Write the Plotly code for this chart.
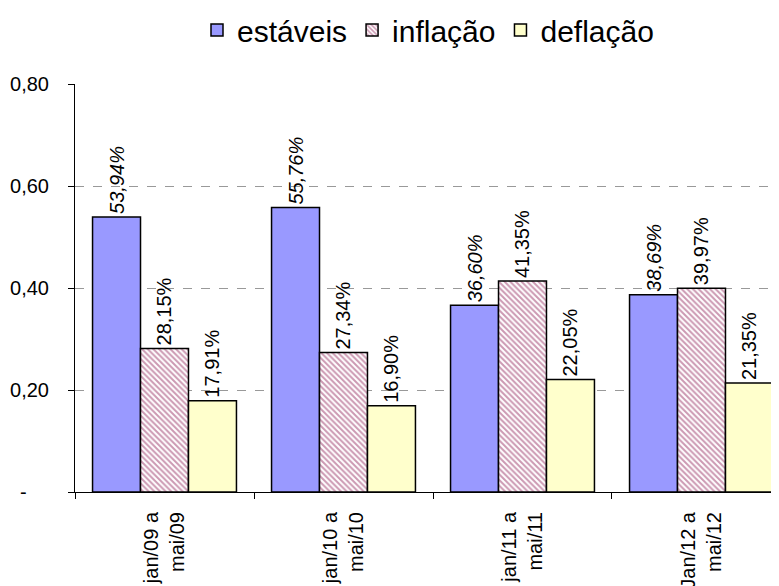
import plotly.graph_objects as go

categories = ["jan/09 a<br>mai/09", "jan/10 a<br>mai/10", "jan/11 a<br>mai/11", "Jan/12 a<br>mai/12"]
estaveis = [0.5394, 0.5576, 0.3660, 0.3869]
inflacao = [0.2815, 0.2734, 0.4135, 0.3997]
deflacao = [0.1791, 0.1690, 0.2205, 0.2135]
y_tickvals = [0, 0.2, 0.4, 0.6, 0.8]
y_ticktext = ["-<span style='color:rgba(0,0,0,0)'>00</span>", "0,20", "0,40", "0,60", "0,80"]

def pct(v):
    return f"{v*100:.2f}%".replace(".", ",")

font_family = "Liberation Sans, Arial, sans-serif"
label_font = dict(family=font_family, size=20, color="black")
common = dict(textposition="outside", textangle=-90, constraintext="none",
              cliponaxis=False, textfont=label_font)

fig = go.Figure()
fig.add_trace(go.Bar(
    name="estáveis", x=categories, y=estaveis,
    text=[f"<i>{pct(v)}</i>" for v in estaveis],
    marker=dict(color="#9999FF", line=dict(color="black", width=1.5)),
    **common,
))
fig.add_trace(go.Bar(
    name="inflação", x=categories, y=inflacao,
    text=[pct(v) for v in inflacao],
    marker=dict(color="white", line=dict(color="black", width=1.5),
                pattern=dict(shape="\\", fgcolor="#993366", bgcolor="white", size=4, solidity=0.5)),
    **common,
))
fig.add_trace(go.Bar(
    name="deflação", x=categories, y=deflacao,
    text=[pct(v) for v in deflacao],
    marker=dict(color="#FFFFCC", line=dict(color="black", width=1.5)),
    **common,
))

W, H = 771, 578
fig.update_layout(
    width=W, height=H,
    margin=dict(l=67, r=0, t=76, b=94, autoexpand=False),
    paper_bgcolor="white", plot_bgcolor="white",
    barmode="group", bargap=0.196, bargroupgap=0,
    font=dict(family=font_family, size=20, color="black"),
    uniformtext=dict(minsize=20, mode="show"),
    legend=dict(orientation="h", x=(420 - 67) / (W - 67), xanchor="center",
                yref="container", y=1 - 22 / H, yanchor="middle",
                font=dict(size=30), itemwidth=30, traceorder="normal", tracegroupgap=0),
    showlegend=True,
)
fig.update_xaxes(
    range=[-0.5, 3.433], showline=True, linecolor="black", linewidth=1, automargin=False,
    ticks="outside", tickson="boundaries", ticklen=6, tickcolor="black", ticklabelstandoff=11,
    tickangle=-90, tickfont=dict(size=20), showgrid=False,
)
fig.update_yaxes(
    range=[0, 0.8], tickvals=y_tickvals, ticktext=y_ticktext, automargin=False,
    showline=True, linecolor="black", linewidth=1,
    ticks="outside", ticklen=6, tickcolor="black", ticklabelstandoff=15,
    showgrid=True, gridcolor="#999999", griddash="dash", gridwidth=1,
    tickfont=dict(size=20), zeroline=False,
)
fig.write_html("out.html")
